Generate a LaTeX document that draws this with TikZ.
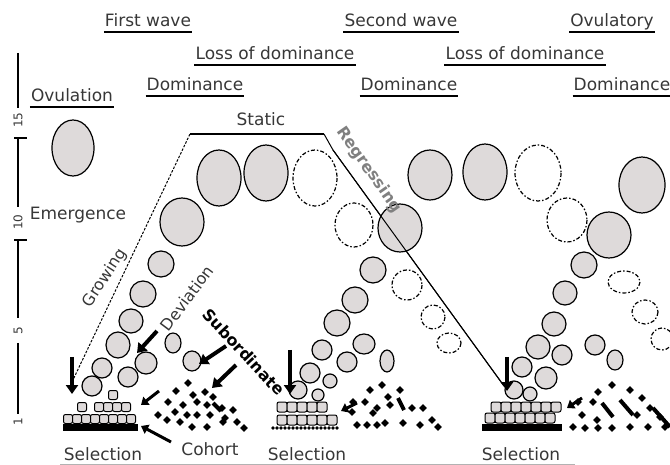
\documentclass[tikz,border=0pt]{standalone}
\usepackage{fontspec}
\setmainfont{DejaVu Sans}
\usetikzlibrary{arrows.meta}

\definecolor{follgray}{RGB}{222,218,218}
\definecolor{txtgray}{RGB}{55,55,55}

\tikzset{
  lbl/.style={font=\fontsize{17}{20}\selectfont, text=txtgray, inner xsep=1pt, inner ysep=5pt, text depth=0pt, anchor=base},
  slanted/.style={font=\fontsize{16}{18}\selectfont, text=txtgray, inner sep=0pt},
  axlbl/.style={font=\fontsize{12}{14}\selectfont, text=txtgray, inner sep=0pt, rotate=90},
  uline/.style={line width=1.6pt},
  foll/.style={draw, fill=follgray, line width=1.2pt},
  gone/.style={draw, fill=white, line width=1.2pt, dash pattern=on 4pt off 2pt on 1.5pt off 2pt},
  cell/.style={draw, fill=follgray, line width=1pt, rounded corners=2pt},
  bigarrow/.style={line width=4pt, -{Triangle[length=9pt,width=12pt]}},
  smallarrow/.style={line width=3pt, -{Triangle[length=7pt,width=10pt]}},
}

\begin{document}
\begin{tikzpicture}[x=1pt,y=-1pt]
\useasboundingbox (0,0) rectangle (670,465);

% headings
\node[lbl] (fw) at (148,27) {First wave};
\node[lbl] (sw) at (401,27) {Second wave};
\node[lbl] (ow) at (612,27) {Ovulatory};
\node[lbl] (ld1) at (275,60) {Loss of dominance};
\node[lbl] (ld2) at (525,60) {Loss of dominance};
\node[lbl] (dm1) at (195,91) {Dominance};
\node[lbl] (dm2) at (409,91) {Dominance};
\node[lbl] (dm3) at (622,91) {Dominance};
\node[lbl] (ovu) at (72,102) {Ovulation};
\foreach \n in {fw,sw,ow,ld1,ld2,dm1,dm2,dm3,ovu}
  \draw[uline] (\n.south west) -- (\n.south east);

\node[lbl] (stat) at (261,126) {Static};
\node[lbl] (emer) at (78,220) {Emergence};
\node[lbl] (sel1) at (103,460) {Selection};
\node[lbl] (coh) at (210,455) {Cohort};
\node[lbl] (sel2) at (307,460) {Selection};
\node[lbl] (sel3) at (521,460) {Selection};
\draw[gray!60, line width=0.6pt] (60,464) -- (575,464);

% day axis
\draw[line width=1.4pt] (18,53) -- (18,108);
\draw[line width=1.4pt] (18,138) -- (18,207);
\draw[line width=1.4pt] (18,240) -- (18,318);
\draw[line width=1.4pt] (18,343) -- (18,414);
\draw[line width=1.4pt] (14,138) -- (27,138);
\draw[line width=1.4pt] (14,240) -- (27,240);
\node[axlbl] (d15) at (18,120) {15};
\node[axlbl] (d10) at (18,222) {10};
\node[axlbl] (d5) at (18,331) {5};
\node[axlbl] (d1) at (18,422) {1};

% growth / static / regression outline
\coordinate (gbot) at (72,382);
\coordinate (gtop) at (190,134);
\coordinate (stop) at (324,134);
\coordinate (skink) at (333,150);
\coordinate (rbot) at (504,386);
\draw[line width=1pt, dash pattern=on 2.5pt off 1.5pt] (gbot) -- (gtop);
\draw[line width=1.2pt] (gtop) -- (stop);
\draw[line width=1pt] (stop) -- (skink) -- (rbot);

% regressing follicles
\foreach \x/\y/\a/\b in {315/178/22/28, 354/225/19/22, 407/285/15/15, 433/317/12/12, 449/343/12/10,
                          538/173/23/28, 567/220/20/22, 624/282/16/11, 645/312/13/12, 662/339/11/11}
  \draw[gone] (\x,\y) ellipse [x radius=\a, y radius=\b];

% growing follicles
\foreach \x/\y/\a/\b in {73/148/21/28,
    219/178/22/28, 266/173/22/28, 182/222/22/24, 161/264/13/13, 143/294/13/13, 131/321/12/12,
    118/345/12/13, 102/368/10/10, 92/386/10/10, 146/363/11/11, 128/377/10/10, 173/343/8/10, 192/361/9/10,
    430/175/22/25, 485/172/22/28, 400/228/22/24, 373/270/13/13, 355/300/13/13, 337/323/13/13,
    322/350/10/10, 310/373/10/10, 298/390/9/9, 330/381/7/7, 318/395/6/6, 364/344/11/10, 347/362/10/10, 387/361/7/11,
    642/185/23/28, 609/235/22/23, 584/265/13/13, 565/293/12/12, 554/324/12/12, 538/347/12/12,
    562/355/10/10, 595/345/10/10, 615/360/8/10, 522/367/10/10, 546/378/11/11, 514/390/9/9, 530/394/7/7}
  \draw[foll] (\x,\y) ellipse [x radius=\a, y radius=\b];
\draw[line width=1pt] (skink) -- (rbot);

% selected pools
\fill (63,424) rectangle (138,431);
\foreach \x in {68,77,...,131}
  \draw[cell] (\x-4.5,414.5) rectangle (\x+4.5,423.5);
\foreach \x in {82,99,108,117,126}
  \draw[cell] (\x-4.5,402.5) rectangle (\x+4.5,411.5);
\draw[cell] (108.5,390.5) rectangle (117.5,399.5);

\foreach \x in {273,277,...,337}
  \fill (\x,428) circle [radius=1.9];
\foreach \x in {282,292,...,332}
  \draw[cell] (\x-5,415) rectangle (\x+5,425);
\foreach \x in {282,292,...,322}
  \draw[cell] (\x-5,402) rectangle (\x+5,412);

\fill (482,424) rectangle (562,431);
\foreach \x in {490,500,...,550}
  \draw[cell] (\x-5,413) rectangle (\x+5,423);
\foreach \x in {496,506,...,556}
  \draw[cell] (\x-5,402) rectangle (\x+5,412);

% cohort follicles
\foreach \x/\y in {176/391, 188/383, 193/395, 205/392, 213/397, 168/402, 183/405, 197/402, 207/405,
    222/408, 233/410, 158/415, 175/412, 187/415, 197/415, 210/415, 225/418, 167/420, 180/422,
    192/427, 207/427, 223/422, 237/422, 244/428,
    382/385, 370/390, 388/397, 400/390, 353/402, 365/402, 377/408, 390/405, 412/408, 423/408,
    352/412, 373/413, 357/425, 367/425, 377/425, 385/423, 403/423, 420/425, 432/420, 438/427,
    612/385, 598/392, 630/390, 642/398, 593/402, 650/408, 578/402, 582/415, 597/420, 637/415,
    660/417, 573/427, 585/428, 598/428, 612/428, 630/427, 648/427, 665/427}
  \fill (\x,\y) +(-3.8,0) -- +(0,-3.8) -- +(3.8,0) -- +(0,3.8) -- cycle;
\foreach \x/\y/\u/\v in {213/403/221/411, 398/398/404/410, 602/403/613/417, 620/400/633/415, 653/408/670/427}
  \draw[line width=4pt] (\x,\y) -- (\u,\v);

% arrows
\draw[bigarrow] (72,357) -- (72,394);
\draw[bigarrow] (290,350) -- (290,394);
\draw[bigarrow] (507,357) -- (507,391);
\draw[bigarrow] (157,331) -- (137,353);
\draw[bigarrow] (226,346) -- (199,364);
\draw[bigarrow] (236,365) -- (212,388);
\draw[smallarrow] (159,391) -- (141,405);
\draw[smallarrow] (171,442) -- (141,426);
\draw[smallarrow] (357,403) -- (341,411);
\draw[smallarrow] (582,398) -- (567,408);

% phase labels along the outline
\node[slanted, rotate=57] (grow) at (105,278) {Growing};
\node[slanted, rotate=53] (dev) at (187,298) {Deviation};
\node[slanted, rotate=-47, font=\fontsize{16}{18}\bfseries, text=black] (sub) at (244,352) {Subordinate};
\node[slanted, rotate=-55, font=\fontsize{16}{18}\bfseries, text=gray] (reg) at (369,170) {Regressing};
\end{tikzpicture}
\end{document}
